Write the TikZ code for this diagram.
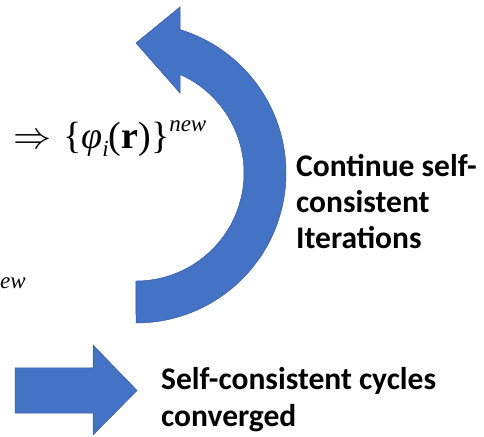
\documentclass[tikz,border=0pt]{standalone}
\usepackage{graphicx}
\usepackage{fontspec}
\newfontfamily\lblfont{Carlito}
\newfontfamily\tnr{Liberation Serif}
\definecolor{arrowblue}{RGB}{68,114,196}
\definecolor{arrowedge}{RGB}{52,90,160}
\tikzset{
  bigarrow/.style={fill=arrowblue, draw=arrowedge, line width=0.5pt, line join=miter},
  lbl/.style={inner sep=0pt, anchor=base west, font=\lblfont\bfseries\fontsize{31.5}{36}\selectfont},
  mathlbl/.style={inner sep=0pt, anchor=base west}
}
\newcommand{\smallit}[1]{{\fontsize{23}{23}\selectfont\itshape #1}}
\begin{document}
\begin{tikzpicture}[x=1pt,y=1pt]
\useasboundingbox (0,0) rectangle (484,436);
% curved arrow
\draw[bigarrow] (136,113) arc[start angle=-90, end angle=72.9, radius=150]
  -- (180,429) -- (136,393) -- (180,343) -- (180,361.6)
  arc[start angle=65.95, end angle=-90, radius=108] -- cycle;
% straight arrow
\draw[bigarrow] (15,68) -- (93,68) -- (93,91) -- (137,45.5) -- (93,1) -- (93,23) -- (15,23) -- cycle;
% formula
\node[mathlbl] (phi) at (13,287) {\scalebox{3.8}{$\Rightarrow$}\hspace{12pt}{\tnr\fontsize{38}{44}\selectfont
  \{\textit{φ}\raisebox{-8pt}{\smallit{i}}(\textbf{r})\}\raisebox{17pt}{\smallit{new}}}};
\node[inner sep=0pt, anchor=base west, font=\tnr] (ew) at (0,147) {\smallit{ew}};
% labels
\node[lbl] (c1) at (296,259) {Continue self-};
\node[lbl] (c2) at (296,223) {consistent};
\node[lbl] (c3) at (296,187) {Iterations};
\node[lbl] (s1) at (161,46) {Self-consistent cycles};
\node[lbl] (s2) at (161,10) {converged};
\end{tikzpicture}
\end{document}
